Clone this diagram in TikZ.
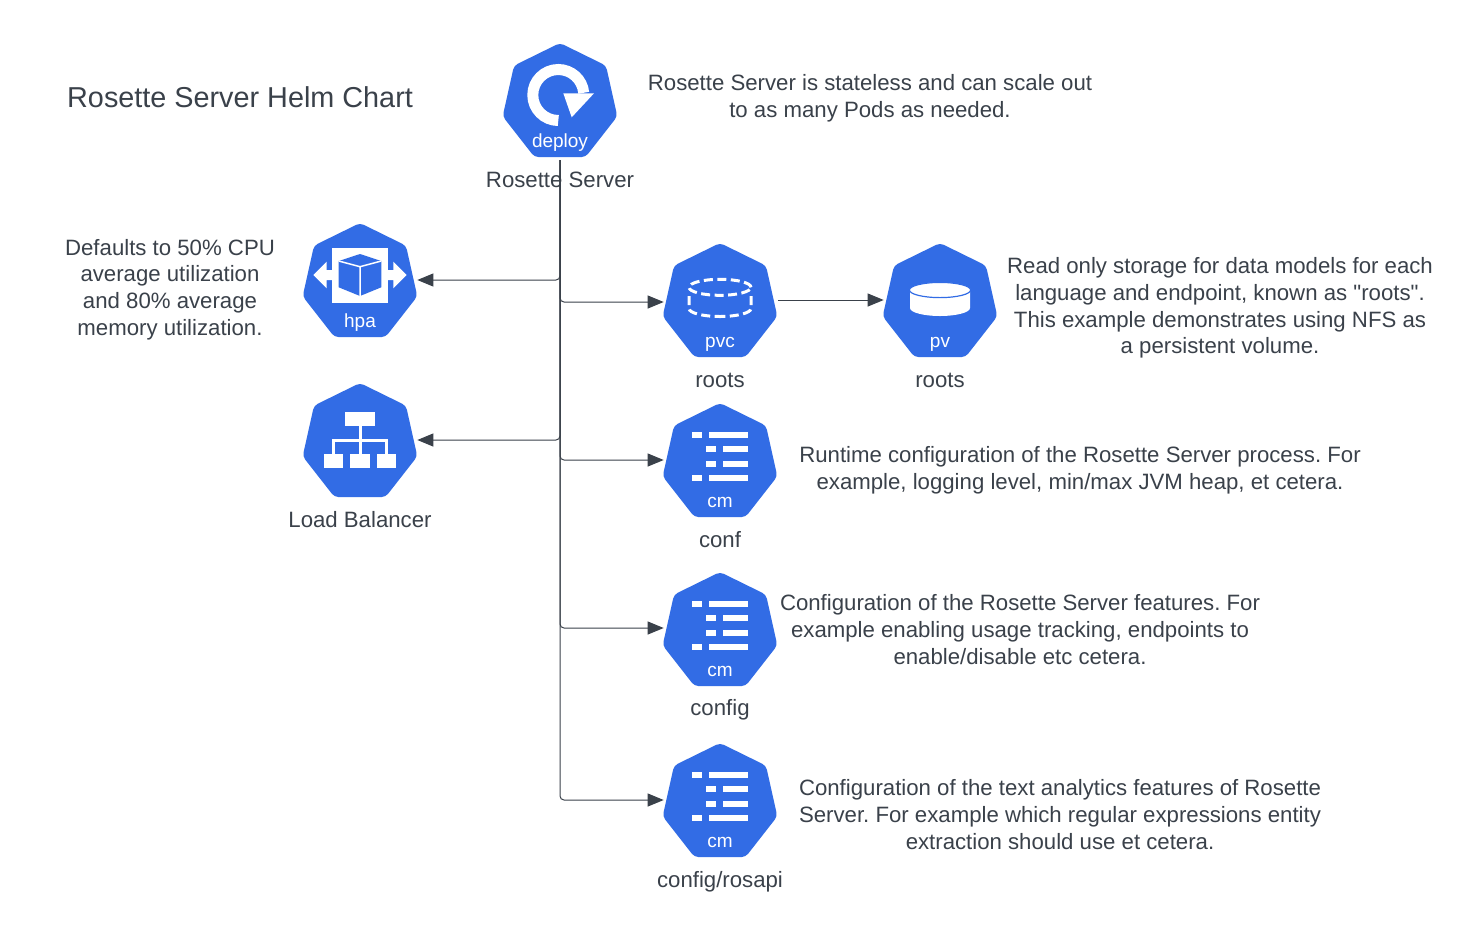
\documentclass[tikz,border=0pt]{standalone}
\usepackage{fontspec}
\setmainfont{Liberation Sans}[Ligatures=TeXOff]
\usetikzlibrary{shapes.geometric,arrows.meta,positioning}

\definecolor{kubeblue}{HTML}{326CE5}
\definecolor{inkgrey}{HTML}{3A414A}

\tikzset{
	hepta/.style={shape=regular polygon,regular polygon sides=7,minimum size=120pt,inner sep=0pt,outer sep=0pt,fill=kubeblue,rounded corners=4pt,xscale=0.98,transform shape},
	tag/.style={text=white,inner sep=0pt,font=\fontsize{19}{22}\selectfont},
	caption/.style={text=inkgrey,inner sep=0pt,align=center,font=\fontsize{22.2}{26.7}\selectfont\frenchspacing},
	link/.style={color=inkgrey,line width=1pt,rounded corners=4pt,-{Triangle[length=16pt,width=13pt]},shorten >=2pt},
	elbow/.style={shorten <=3pt,to path={|- (\tikztotarget)}},
	deployicon/.pic={
		\draw[white,line width=11pt] (-1.7,-17.5) arc[start angle=270,end angle=5,radius=25.5];
		\fill[white] (3.3,9.7) -- (34,9.7) -- (11.7,-14.3) -- cycle;
	},
	hpaicon/.pic={
		\fill[white] (-28,35.3) rectangle (28,-19.7);
		\fill[white] (-46.7,8) -- (-33.3,21.3) -- (-33.3,13) -- (-28,13) -- (-28,3) -- (-33.3,3) -- (-33.3,-5.3) -- cycle;
		\fill[white] (46.7,8) -- (33.3,21.3) -- (33.3,13) -- (28,13) -- (28,3) -- (33.3,3) -- (33.3,-5.3) -- cycle;
		\fill[kubeblue] (0,29) -- (21.3,22) -- (21.3,-4.3) -- (0,-13) -- (-21.3,-4.3) -- (-21.3,22) -- cycle;
		\draw[white,line width=1.5pt] (-21.3,22) -- (0,16.3) -- (21.3,22) (0,16.3) -- (0,-13);
	},
	lbicon/.pic={
		\fill[white] (-15,31) rectangle (15,17.3);
		\fill[white] (-36,-11) rectangle (-17,-24.7);
		\fill[white] (-10,-11) rectangle (10,-24.7);
		\fill[white] (17,-11) rectangle (36,-24.7);
		\draw[white,line width=3pt] (0,17.3) -- (0,-11) (-26.5,-11) -- (-26.5,3) -- (26.5,3) -- (26.5,-11);
	},
	pvcicon/.pic={
		\draw[white,line width=3pt,dash pattern=on 9pt off 4.5pt] (0,15.7) ellipse[x radius=31,y radius=8];
		\draw[white,line width=3pt,dash pattern=on 9pt off 4.5pt] (-31,7) -- (-31,-5.5) arc[start angle=180,end angle=270,x radius=31,y radius=8];
		\draw[white,line width=3pt,dash pattern=on 9pt off 4.5pt] (31,7) -- (31,-5.5) arc[start angle=360,end angle=270,x radius=31,y radius=8];
	},
	pvicon/.pic={
		\fill[white] (-30,13) -- (-30,-5) arc[start angle=180,end angle=360,x radius=30,y radius=8] -- (30,13) -- cycle;
		\draw[kubeblue,fill=white,line width=1.2pt] (0,13) ellipse[x radius=30.6,y radius=7.6];
	},
	cmicon/.pic={
		\foreach \rowy in {28,-15.3} {
			\fill[white] (-28,\rowy-3) rectangle (-18,\rowy+3);
			\fill[white] (-11,\rowy-3) rectangle (28,\rowy+3);
		}
		\foreach \rowy in {13.7,-1} {
			\fill[white] (-14,\rowy-3) rectangle (-4,\rowy+3);
			\fill[white] (3,\rowy-3) rectangle (28,\rowy+3);
		}
	}
}

\begin{document}
\begin{tikzpicture}[x=1pt,y=1pt]
	\path[fill=white,use as bounding box] (0,0) rectangle (1480,-930);

	\node[hepta] (deploy) at (560,-103) {};
	\node[hepta] (hpa) at (360,-283) {};
	\node[hepta] (lb) at (360,-443) {};
	\node[hepta] (pvc) at (720,-303) {};
	\node[hepta] (pv) at (940,-303) {};
	\node[hepta] (conf) at (720,-463) {};
	\node[hepta] (config) at (720,-632) {};
	\node[hepta] (rosapi) at (720,-803) {};

	\pic at (deploy.center) {deployicon};
	\pic at (hpa.center) {hpaicon};
	\pic at (lb.center) {lbicon};
	\pic at (pvc.center) {pvcicon};
	\pic at (pv.center) {pvicon};
	\pic at (conf.center) {cmicon};
	\pic at (config.center) {cmicon};
	\pic at (rosapi.center) {cmicon};

	\node[tag] (deploytag) at (560,-143) {deploy};
	\node[tag] (hpatag) at (360,-323) {hpa};
	\node[tag] (pvctag) at (720,-344) {pvc};
	\node[tag] (pvtag) at (940,-344) {pv};
	\node[tag] (conftag) at (720,-502) {cm};
	\node[tag] (configtag) at (720,-671) {cm};
	\node[tag] (rosapitag) at (720,-842) {cm};

	\node[caption,font=\fontsize{28.8}{34}\selectfont,anchor=west] (title) at (67,-97) {Rosette Server Helm Chart};
	\node[caption] (deployname) at (560,-180) {Rosette Server};
	\node[caption] (lbname) at (360,-520) {Load Balancer};
	\node[caption] (pvcname) at (720,-380) {roots};
	\node[caption] (pvname) at (940,-380) {roots};
	\node[caption] (confname) at (720,-540) {conf};
	\node[caption] (configname) at (720,-710) {config};
	\node[caption] (rosapiname) at (720,-882) {config/rosapi};

	\node[caption] (scalenote) at (870,-98) {Rosette Server is stateless and can scale out\\to as many Pods as needed.};
	\node[caption] (hpanote) at (170,-289.5) {Defaults to 50\% CPU\\average utilization\\and 80\% average\\memory utilization.};
	\node[caption] (pvnote) at (1220,-308) {Read only storage for data models for each\\language and endpoint, known as "roots".\\This example demonstrates using NFS as\\a persistent volume.};
	\node[caption] (confnote) at (1080,-470) {Runtime configuration of the Rosette Server process. For\\example, logging level, min/max JVM heap, et cetera.};
	\node[caption] (confignote) at (1020,-629.5) {Configuration of the Rosette Server features. For\\example enabling usage tracking, endpoints to\\enable/disable etc cetera.};
	\node[caption] (rosapinote) at (1060,-814.5) {Configuration of the text analytics features of Rosette\\Server. For example which regular expressions entity\\extraction should use et cetera.};

	\path [-]
	(deploy.south) edge[link,elbow] ([xshift=1pt,yshift=3pt]hpa.east)
	(deploy.south) edge[link,elbow] ([xshift=1pt,yshift=3pt]lb.east)
	(deploy.south) edge[link,elbow] ([yshift=1pt]pvc.west)
	(deploy.south) edge[link,elbow] ([yshift=3pt]conf.west)
	(deploy.south) edge[link,elbow] ([yshift=4pt]config.west)
	(deploy.south) edge[link,elbow] ([yshift=3pt]rosapi.west)
	([xshift=3.5pt,yshift=3pt]pvc.east) edge[link] ([yshift=3pt]pv.west);
\end{tikzpicture}
\end{document}
